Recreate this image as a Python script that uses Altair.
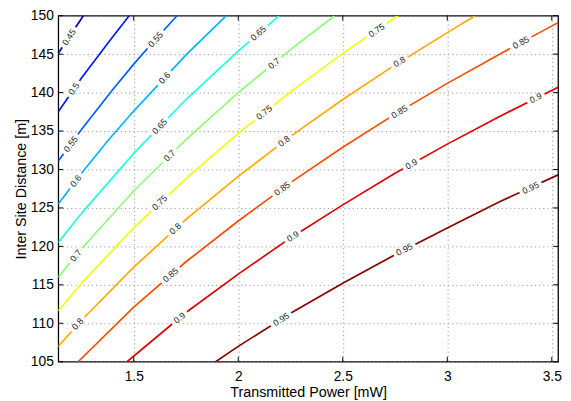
import math
import altair as alt
import pandas as pd

# ---------------- data ----------------
LEVELS = ["0.45", "0.5", "0.55", "0.6", "0.65", "0.7", "0.75", "0.8", "0.85", "0.9", "0.95"]
COLORS = ["#0000A8", "#0018F8", "#0060FF", "#00B4FF", "#20FFDF", "#8CFF73",
          "#F2FF0D", "#FFAA00", "#FF4C00", "#E00000", "#880000"]

CONTOUR_X = [
    [1.139, 1.20, 1.259],
    [1.139, 1.25, 1.375, 1.478],
    [1.139, 1.25, 1.40, 1.50, 1.60, 1.707],
    [1.139, 1.25, 1.375, 1.50, 1.75, 1.943],
    [1.139, 1.25, 1.50, 1.75, 2.00, 2.196],
    [1.139, 1.25, 1.50, 1.75, 2.00, 2.25, 2.461],
    [1.139, 1.25, 1.50, 1.75, 2.00, 2.25, 2.50, 2.763],
    [1.139, 1.25, 1.50, 1.75, 2.00, 2.25, 2.50, 2.75, 3.00, 3.134],
    [1.234, 1.50, 1.75, 2.00, 2.25, 2.50, 2.75, 3.00, 3.25, 3.53],
    [1.468, 1.75, 2.00, 2.25, 2.50, 2.75, 3.00, 3.25, 3.53],
    [1.892, 2.00, 2.25, 2.50, 2.75, 3.00, 3.25, 3.53],
]
CONTOUR_Y = [
    [145.1, 147.6, 150.0],
    [137.5, 141.9, 146.4, 150.0],
    [131.1, 135.2, 140.4, 143.7, 146.8, 150.0],
    [125.5, 129.5, 133.7, 137.6, 144.9, 150.0],
    [120.5, 124.3, 132.1, 139.1, 145.4, 150.0],
    [116.0, 119.7, 127.2, 133.9, 140.0, 145.6, 150.0],
    [111.6, 115.2, 122.4, 128.8, 134.7, 140.1, 145.1, 150.0],
    [107.0, 110.4, 117.3, 123.5, 129.1, 134.3, 139.1, 143.6, 147.8, 150.0],
    [105.0, 112.1, 118.0, 123.3, 128.3, 132.9, 137.2, 141.2, 145.0, 149.1],
    [105.0, 111.4, 116.4, 121.1, 125.4, 129.5, 133.3, 136.9, 140.7],
    [105.0, 107.0, 111.3, 115.2, 118.9, 122.4, 125.8, 129.3],
]

LABEL_LEVEL = ["0.45", "0.5", "0.55", "0.55", "0.6", "0.6", "0.65", "0.65",
               "0.7", "0.7", "0.7", "0.75", "0.75", "0.75",
               "0.8", "0.8", "0.8", "0.8", "0.85", "0.85", "0.85", "0.85",
               "0.9", "0.9", "0.9", "0.9", "0.95", "0.95", "0.95"]
LABEL_X = [1.19, 1.213, 1.199, 1.605, 1.223, 1.647, 1.624, 2.096,
           1.223, 1.671, 2.171, 1.624, 2.124, 2.662,
           1.232, 1.699, 2.219, 2.771, 1.676, 2.210, 2.771, 3.352,
           1.719, 2.261, 2.828, 3.423, 2.205, 2.795, 3.399]
LABEL_Y = [147.2, 140.5, 133.3, 146.9, 128.5, 141.9, 135.6, 147.7,
           118.8, 131.8, 143.8, 125.7, 137.4, 148.1,
           109.9, 122.3, 133.7, 144.0, 116.3, 127.5, 137.5, 146.5,
           110.7, 121.3, 130.7, 139.3, 110.5, 119.6, 127.6]

X_TICKS = [1.5, 2, 2.5, 3, 3.5]
Y_TICKS = [105, 110, 115, 120, 125, 130, 135, 140, 145, 150]
X_DOMAIN = [1.139, 3.53]
Y_DOMAIN = [105, 150]

# ---------------- layout ----------------
W, H = 507, 351
FONT = "Liberation Sans"
px_per_x = W / (X_DOMAIN[1] - X_DOMAIN[0])
px_per_y = H / (Y_DOMAIN[1] - Y_DOMAIN[0])

rows = []
for lev, xs, ys in zip(LEVELS, CONTOUR_X, CONTOUR_Y):
    for i, (x, y) in enumerate(zip(xs, ys)):
        rows.append({"level": lev, "x": x, "y": y, "i": i})
lines_df = pd.DataFrame(rows)


def local_angle(lev, x):
    k = LEVELS.index(lev)
    xs, ys = CONTOUR_X[k], CONTOUR_Y[k]
    for j in range(len(xs) - 1):
        if xs[j] <= x <= xs[j + 1] or j == len(xs) - 2:
            s = (ys[j + 1] - ys[j]) / (xs[j + 1] - xs[j])
            break
    deg = math.degrees(math.atan(s * px_per_y / px_per_x))
    return (360 - deg) % 360


lab_rows = []
for lev, x, y in zip(LABEL_LEVEL, LABEL_X, LABEL_Y):
    tw = 9 * (0.556 * (len(lev) - 1) + 0.278)
    box = tw + 7
    lab_rows.append({"level": lev, "x": x, "y": y,
                     "angle": local_angle(lev, x), "box": box * box})
labels_df = pd.DataFrame(lab_rows)

xscale = alt.Scale(domain=X_DOMAIN, nice=False, zero=False)
yscale = alt.Scale(domain=Y_DOMAIN, nice=False, zero=False)
cscale = alt.Scale(domain=LEVELS, range=COLORS)

x_axis = alt.Axis(values=X_TICKS, format="~g", title="Transmitted Power [mW]",
                  grid=True, ticks=False, domain=False, labelPadding=8,
                  titlePadding=2, labelFlush=False)
y_axis = alt.Axis(values=Y_TICKS, format="d", title="Inter Site Distance [m]",
                  grid=True, ticks=False, domain=False, labelPadding=5,
                  titlePadding=2, labelFlush=False)

X_ENC = alt.X("x:Q", scale=xscale, axis=x_axis)
Y_ENC = alt.Y("y:Q", scale=yscale, axis=y_axis)

lines = alt.Chart(lines_df).mark_line(strokeWidth=1.7, clip=True).encode(
    x=X_ENC, y=Y_ENC,
    color=alt.Color("level:N", scale=cscale, legend=None),
    detail="level:N",
    order="i:Q",
)

BOX_PATH = "M-1,-0.32L1,-0.32L1,0.32L-1,0.32Z"
boxes = alt.Chart(labels_df).mark_point(
    shape=BOX_PATH, filled=True, color="white", opacity=1, strokeWidth=0
).encode(
    x=X_ENC, y=Y_ENC,
    angle=alt.Angle("angle:Q", scale=None),
    size=alt.Size("box:Q", scale=None),
)

texts = alt.Chart(labels_df).mark_text(
    font=FONT, fontSize=9, color="#222222", align="center", baseline="middle"
).encode(
    x=X_ENC, y=Y_ENC,
    text="level:N",
    angle=alt.Angle("angle:Q", scale=None),
)

xt_df = pd.DataFrame({"x": X_TICKS})
yt_df = pd.DataFrame({"y": Y_TICKS})
TL = 5
tick_b = alt.Chart(xt_df).mark_rule(color="black", strokeWidth=1).encode(
    x=X_ENC, y=alt.value(H), y2=alt.value(H - TL))
tick_t = alt.Chart(xt_df).mark_rule(color="black", strokeWidth=1).encode(
    x=X_ENC, y=alt.value(0), y2=alt.value(TL))
tick_l = alt.Chart(yt_df).mark_rule(color="black", strokeWidth=1).encode(
    y=Y_ENC, x=alt.value(0), x2=alt.value(TL))
tick_r = alt.Chart(yt_df).mark_rule(color="black", strokeWidth=1).encode(
    y=Y_ENC, x=alt.value(W), x2=alt.value(W - TL))

chart = alt.layer(lines, boxes, texts, tick_b, tick_t, tick_l, tick_r).properties(
    width=W, height=H,
    autosize=alt.AutoSizeParams(type="none"),
    padding={"left": 51, "top": 5, "right": 5, "bottom": 36},
    background="white",
).configure_view(
    stroke="black", strokeWidth=1.3
).configure_axis(
    labelFont=FONT, labelFontSize=14, labelColor="black",
    titleFont=FONT, titleFontSize=14.5, titleFontWeight="normal", titleColor="black",
    gridColor="#9a9a9a", gridDash=[1.2, 3], gridWidth=1,
)

chart.save("out.html", embed_options={"renderer": "svg", "actions": False})
